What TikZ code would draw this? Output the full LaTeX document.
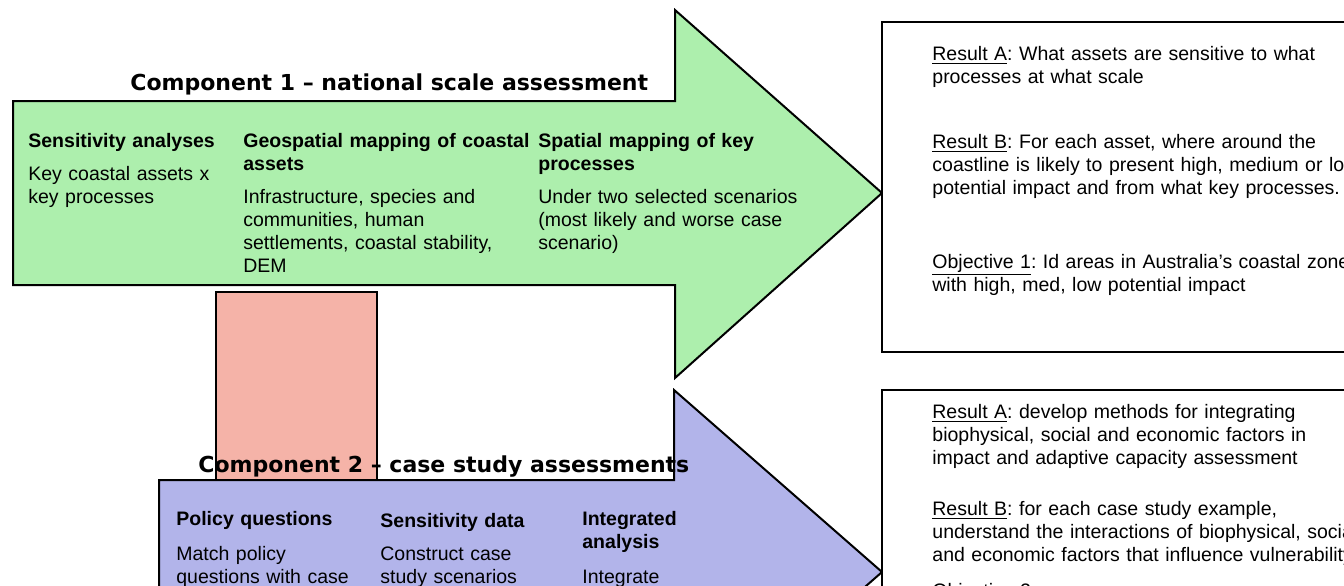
\documentclass[tikz,border=0pt]{standalone}
\usepackage{fontspec}
\setmainfont{Liberation Sans}
\newfontfamily\headfont{DejaVu Sans}
\usetikzlibrary{calc}
\frenchspacing

\definecolor{natgreen}{RGB}{173,239,173}
\definecolor{linkpink}{RGB}{245,179,168}
\definecolor{caseblue}{RGB}{178,180,234}

\tikzset{
  blockarrow/.style={draw=black, line width=1pt, line join=miter},
  resultbox/.style={draw=black, line width=1pt, fill=white},
  comptitle/.style={anchor=base west, inner sep=0pt,
    font=\headfont\bfseries\fontsize{11}{13}\selectfont},
  coltext/.style={anchor=base west, inner sep=0pt, text width=150pt,
    align=left, font=\fontsize{9.75}{11.5}\selectfont},
  restext/.style={coltext, text width=300pt},
}

\begin{document}
\begin{tikzpicture}[x=0.5pt, y=-0.5pt]
\clip (0,0) rectangle (1344,585);
\fill[white] (0,0) rectangle (1344,585);

% arrow outlines (pixel grid, y pointing down)
\coordinate (ga) at (13,101);
\coordinate (gb) at (675,101);
\coordinate (gc) at (675,10);
\coordinate (gt) at (882,193);
\coordinate (gd) at (675,378);
\coordinate (ge) at (675,285);
\coordinate (gf) at (13,285);

\coordinate (ba) at (159,480);
\coordinate (bb) at (674,480);
\coordinate (bc) at (674,390);
\coordinate (bt) at (882,572);
\coordinate (bd) at (674,754);
\coordinate (be) at (674,664);
\coordinate (bf) at (159,664);

\newcommand{\drawcomponent}[8]{
    \filldraw[blockarrow, fill=#1] (#2)--(#3)--(#4)--(#5)--(#6)--(#7)--(#8)--cycle;
}

\drawcomponent{natgreen}{ga}{gb}{gc}{gt}{gd}{ge}{gf}
\filldraw[blockarrow, fill=linkpink] (216,292) rectangle (377,480);
\drawcomponent{caseblue}{ba}{bb}{bc}{bt}{bd}{be}{bf}

% result boxes, running off the right edge
\draw[resultbox] (882,22) rectangle (1400,352);
\draw[resultbox] (882,390) rectangle (1400,700);

\node[comptitle] (title1) at (130,90) {Component 1 \textendash\ national scale assessment};
\node[comptitle] (title2) at (198,472) {Component 2 \textendash\ case study assessments};

% component 1 columns
\node[coltext] (sens) at (28,147)
  {\textbf{Sensitivity analyses}\\[5pt]
   Key coastal assets x\\ key processes};
\node[coltext] (geo) at (243,147)
  {\textbf{Geospatial mapping of coastal}\\ \textbf{assets}\\[5pt]
   Infrastructure, species and\\ communities, human\\
   settlements, coastal stability,\\ DEM};
\node[coltext] (spat) at (538,147)
  {\textbf{Spatial mapping of key}\\ \textbf{processes}\\[5pt]
   Under two selected scenarios\\ (most likely and worse case\\ scenario)};

% component 2 columns
\node[coltext] (policy) at (176,525)
  {\textbf{Policy questions}\\[6pt]
   Match policy\\ questions with case};
\node[coltext] (sdata) at (380,527)
  {\textbf{Sensitivity data}\\[5pt]
   Construct case\\ study scenarios};
\node[coltext] (integ) at (582,525)
  {\textbf{Integrated}\\ \textbf{analysis}\\[6pt]
   Integrate};

% results and objectives
\node[restext] (resA) at (932,60)
  {\underline{Result A}: What assets are sensitive to what\\ processes at what scale};
\node[restext] (resB) at (932,148)
  {\underline{Result B}: For each asset, where around the\\
   coastline is likely to present high, medium or low\\
   potential impact and from what key processes.};
\node[restext] (obj1) at (932,268)
  {\underline{Objective 1}: Id areas in Australia's coastal zone\\
   with high, med, low potential impact};

\node[restext] (resA2) at (932,418)
  {\underline{Result A}: develop methods for integrating\\
   biophysical, social and economic factors in\\
   impact and adaptive capacity assessment};
\node[restext] (resB2) at (932,515)
  {\underline{Result B}: for each case study example,\\
   understand the interactions of biophysical, social\\
   and economic factors that influence vulnerability};
\node[restext] (obj2) at (932,597)
  {\underline{Objective 2}:};
\end{tikzpicture}
\end{document}
